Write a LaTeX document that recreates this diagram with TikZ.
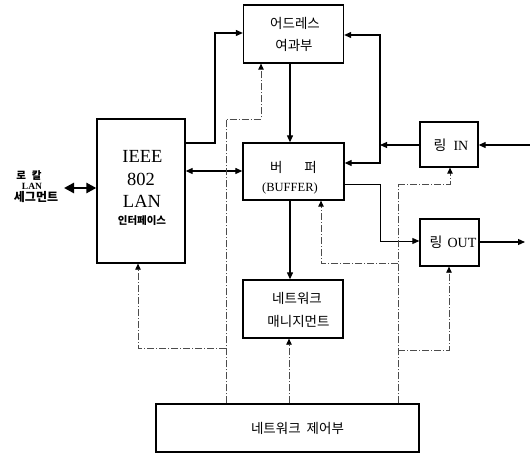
\documentclass[tikz,border=0pt]{standalone}
\usepackage{fontspec}
\setmainfont{Liberation Serif}
\newfontfamily\kr{Noto Sans CJK KR}
\usetikzlibrary{arrows.meta}
\tikzset{
  box/.style={draw, line width=1.3pt, inner sep=0pt},
  txt/.style={inner sep=0pt, anchor=center},
  arr/.style={line width=1.1pt, -{Triangle[length=7pt,width=6pt]}},
  darr/.style={line width=1.1pt, {Triangle[length=7pt,width=6pt]}-{Triangle[length=7pt,width=6pt]}},
  lanarr/.style={line width=2.6pt, {Triangle[length=10pt,width=10pt]}-{Triangle[length=10pt,width=10pt]}},
  ctl/.style={draw=black!70, line width=0.8pt, dash pattern=on 7pt off 2pt on 1pt off 2pt},
  carr/.style={ctl, -{Triangle[length=6pt,width=5.5pt,color=black]}},
}
\begin{document}
\begin{tikzpicture}[x=1pt,y=-1pt]
\useasboundingbox (0,0) rectangle (530,457);
% boxes
\node[box, minimum width=100pt, minimum height=58pt] (addr) at (293.5,34) {};
\node[box, minimum width=88pt, minimum height=144pt] (ieee) at (141,191) {};
\node[box, minimum width=101pt, minimum height=57pt] (buf) at (293.5,171.5) {};
\node[box, minimum width=58pt, minimum height=45pt] (rin) at (449,144.5) {};
\node[box, minimum width=59pt, minimum height=47pt] (rout) at (449.5,242.5) {};
\node[box, minimum width=100pt, minimum height=58pt] (nm) at (293,309) {};
\node[box, minimum width=263pt, minimum height=48pt] (nc) at (287.5,428) {};
% texts
\node[txt] (addr1) at (295,23.5) {\kr\fontsize{13.5}{15}\selectfont 어드레스};
\node[txt] (addr2) at (294,45.5) {\kr\fontsize{13.5}{15}\selectfont 여과부};
\node[txt] (ieee1) at (142.5,156) {\fontsize{18.5}{20}\selectfont IEEE};
\node[txt] (ieee2) at (141,179.5) {\fontsize{18.5}{20}\selectfont 802};
\node[txt] (ieee3) at (142,201.5) {\fontsize{18.5}{20}\selectfont LAN};
\node[txt] (ieee4) at (142,221) {\kr\bfseries\fontsize{10.5}{12}\selectfont 인터페이스};
\node[txt] (buf1) at (293.5,167) {\kr\fontsize{13.5}{15}\selectfont 버\hspace{22pt}퍼};
\node[txt] (buf2) at (290,188.5) {\fontsize{12.5}{14}\selectfont (BUFFER)};
\node[txt] (rin1) at (451,145) {\fontsize{14}{16}\selectfont{\kr 링}\hspace{7pt}IN};
\node[txt] (rout1) at (453,242.5) {\fontsize{14}{16}\selectfont{\kr 링}\hspace{5pt}OUT};
\node[txt] (nm1) at (297,298) {\kr\fontsize{13.5}{15}\selectfont 네트워크};
\node[txt] (nm2) at (298.5,321.5) {\kr\fontsize{13.5}{15}\selectfont 매니지먼트};
\node[txt] (nc1) at (297.5,428.5) {\kr\fontsize{13.5}{15}\selectfont 네트워크\hspace{6pt}제어부};
\node[txt] (lan1) at (29,175.5) {\kr\bfseries\fontsize{10.5}{12}\selectfont 로\hspace{6pt}칼};
\node[txt] (lan2) at (32,186) {\bfseries\fontsize{9.5}{11}\selectfont LAN};
\node[txt] (lan3) at (36,197.5) {\kr\bfseries\fontsize{12}{14}\selectfont 세그먼트};
% coordinates
\coordinate (lanend) at (64,188);
\coordinate (jn) at (380,145);
\coordinate (jt) at (380,35);
\coordinate (jb) at (380,163);
\coordinate (rinsrc) at (530,145);
\coordinate (routdst) at (525,242);
% solid connectors
\draw[lanarr] (lanend) -- (ieee.west |- lanend);
\draw[arr] (ieee.east |- 0,143) -- (215,143) |- (addr.west |- 0,33);
\draw[darr] (ieee.east |- 0,171) -- (buf.west |- 0,171);
\draw[arr] (addr.south -| 290,0) -- (buf.north -| 290,0);
\draw[arr] (buf.south -| 290,0) -- (nm.north -| 290,0);
\draw[arr] (rin.west |- jn) -- (jn);
\draw[arr] (jn) |- (addr.east |- jt);
\draw[arr] (jn) |- (buf.east |- jb);
\draw[arr] (rinsrc) -- (rin.east |- rinsrc);
\draw[arr] (rout.east |- routdst) -- (routdst);
\draw[arr, line width=0.9pt] (buf.east |- 0,184) -- (380,184) |- (rout.west |- 0,241);
% control lines
\draw[carr] (nc.north -| 226,0) -- (226,119) -- (261,119) -- (addr.south -| 261,0);
\draw[carr] (226,348) -| (ieee.south -| 138,0);
\draw[carr] (nc.north -| 289,0) -- (nm.south -| 289,0);
\draw[ctl] (nc.north -| 398,0) -- (398,184);
\draw[carr] (398,184) -| (rin.south -| 450,0);
\draw[carr] (398,350) -| (rout.south -| 449,0);
\draw[carr] (398,263) -| (buf.south -| 321,0);
\end{tikzpicture}
\end{document}
